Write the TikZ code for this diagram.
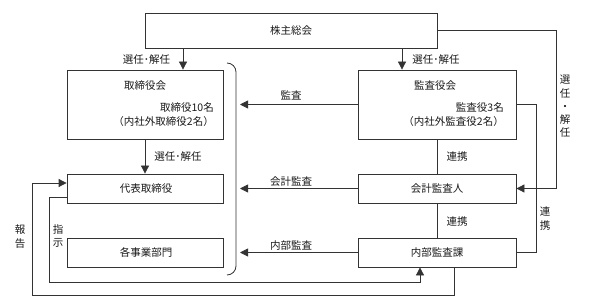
\documentclass[tikz,border=0pt]{standalone}
\usepackage{fontspec}
\newfontfamily\cjk{Noto Sans CJK JP}
\usetikzlibrary{arrows.meta}
\tikzset{
  box/.style={draw=black!80, line width=0.8pt, rectangle, inner sep=0pt},
  txt/.style={inner sep=0pt, text=black!90, font=\cjk\fontsize{10.5}{13.3}\selectfont},
  vtxt/.style={txt, align=center},
  ln/.style={draw=black!80, line width=0.8pt},
  arr/.style={ln, -{Triangle[length=8pt,width=8pt]}}
}
\begin{document}
\begin{tikzpicture}[x=1pt,y=-1pt]
\useasboundingbox (0,0) rectangle (589,307);
% boxes
\node[box, minimum width=292, minimum height=35] (sh) at (291,30.5) {};
\node[txt] (shT) at (291,31) {株主総会};
\node[box, minimum width=156, minimum height=69] (tb) at (145,104.5) {};
\node[box, minimum width=158, minimum height=69] (ka) at (437,104.5) {};
\node[box, minimum width=156, minimum height=29] (dh) at (145,188.5) {};
\node[box, minimum width=156, minimum height=29] (jb) at (145,252.5) {};
\node[box, minimum width=158, minimum height=29] (kk) at (437,188.5) {};
\node[box, minimum width=158, minimum height=29] (nb) at (437,252.5) {};
% box texts
\node[txt] (tbT) at (145,86) {取締役会};
\node[txt, anchor=east] (tbA) at (214,108) {取締役10名};
\node[txt, anchor=east] (tbB) at (214,122) {（内社外取締役2名）};
\node[txt] (kaT) at (435,86) {監査役会};
\node[txt, anchor=east] (kaA) at (504,108) {監査役3名};
\node[txt, anchor=east] (kaB) at (504,122) {（内社外監査役2名）};
\node[txt] (dhT) at (146,188.5) {代表取締役};
\node[txt] (jbT) at (146,252.5) {各事業部門};
\node[txt] (kkT) at (437,188.5) {会計監査人};
\node[txt] (nbT) at (437,252.5) {内部監査課};
% bracket
\draw[ln, rounded corners=9pt] (227,63) -- (236,63) -- (236,275) -- (227,275);
% vertical arrows
\draw[arr] (sh.south -| tb.north) ++(38,0) coordinate (a1) -- (a1 |- tb.north);
\node[txt] (l1) at (146.5,60) {選任･解任};
\draw[arr] (sh.south -| ka.north) ++(-35,0) coordinate (a2) -- (a2 |- ka.north);
\node[txt] (l2) at (436,60) {選任･解任};
\draw[arr] (tb.south) -- (dh.north);
\node[txt] (l3) at (178,157) {選任･解任};
\draw[ln] (ka.south) -- (kk.north);
\node[txt] (l4) at (457,157) {連携};
\draw[ln] (kk.south) -- (nb.north);
\node[txt] (l5) at (457,222) {連携};
% right loops
\coordinate (r1) at (556,30.5);
\draw[arr] (sh.east) -- (r1) |- (kk.east);
\node[vtxt] (l6) at (565,106.5) {選\\任\\・\\解\\任};
\coordinate (r2) at (536,104.5);
\draw[ln] (ka.east) -- (r2) |- (nb.east);
\node[vtxt] (l7) at (545,218.5) {連\\携};
% left arrows to bracket
\coordinate (b1) at (240,104.5);
\coordinate (b2) at (240,188.5);
\coordinate (b3) at (240,252.5);
\draw[arr] (ka.west) -- (b1);
\draw[arr] (kk.west) -- (b2);
\draw[arr] (nb.west) -- (b3);
\node[txt] (l8) at (291,95) {監査};
\node[txt] (l9) at (291,182) {会計監査};
\node[txt] (l10) at (291,246) {内部監査};
% report loop
\coordinate (p1) at (454,295);
\coordinate (p2) at (32,295);
\coordinate (p3) at (32,183);
\draw[arr] (nb.south -| p1) -- (p1) -- (p2) -- (p3) -- (dh.west |- p3);
\node[vtxt] (l11) at (20,236.5) {報\\告};
% instruction loop
\coordinate (q1) at (49,197);
\coordinate (q2) at (49,282);
\coordinate (q3) at (420,282);
\draw[arr] (dh.west |- q1) -- (q1) -- (q2) -- (q3) -- (q3 |- nb.south);
\node[vtxt] (l12) at (58,236) {指\\示};
\end{tikzpicture}
\end{document}
